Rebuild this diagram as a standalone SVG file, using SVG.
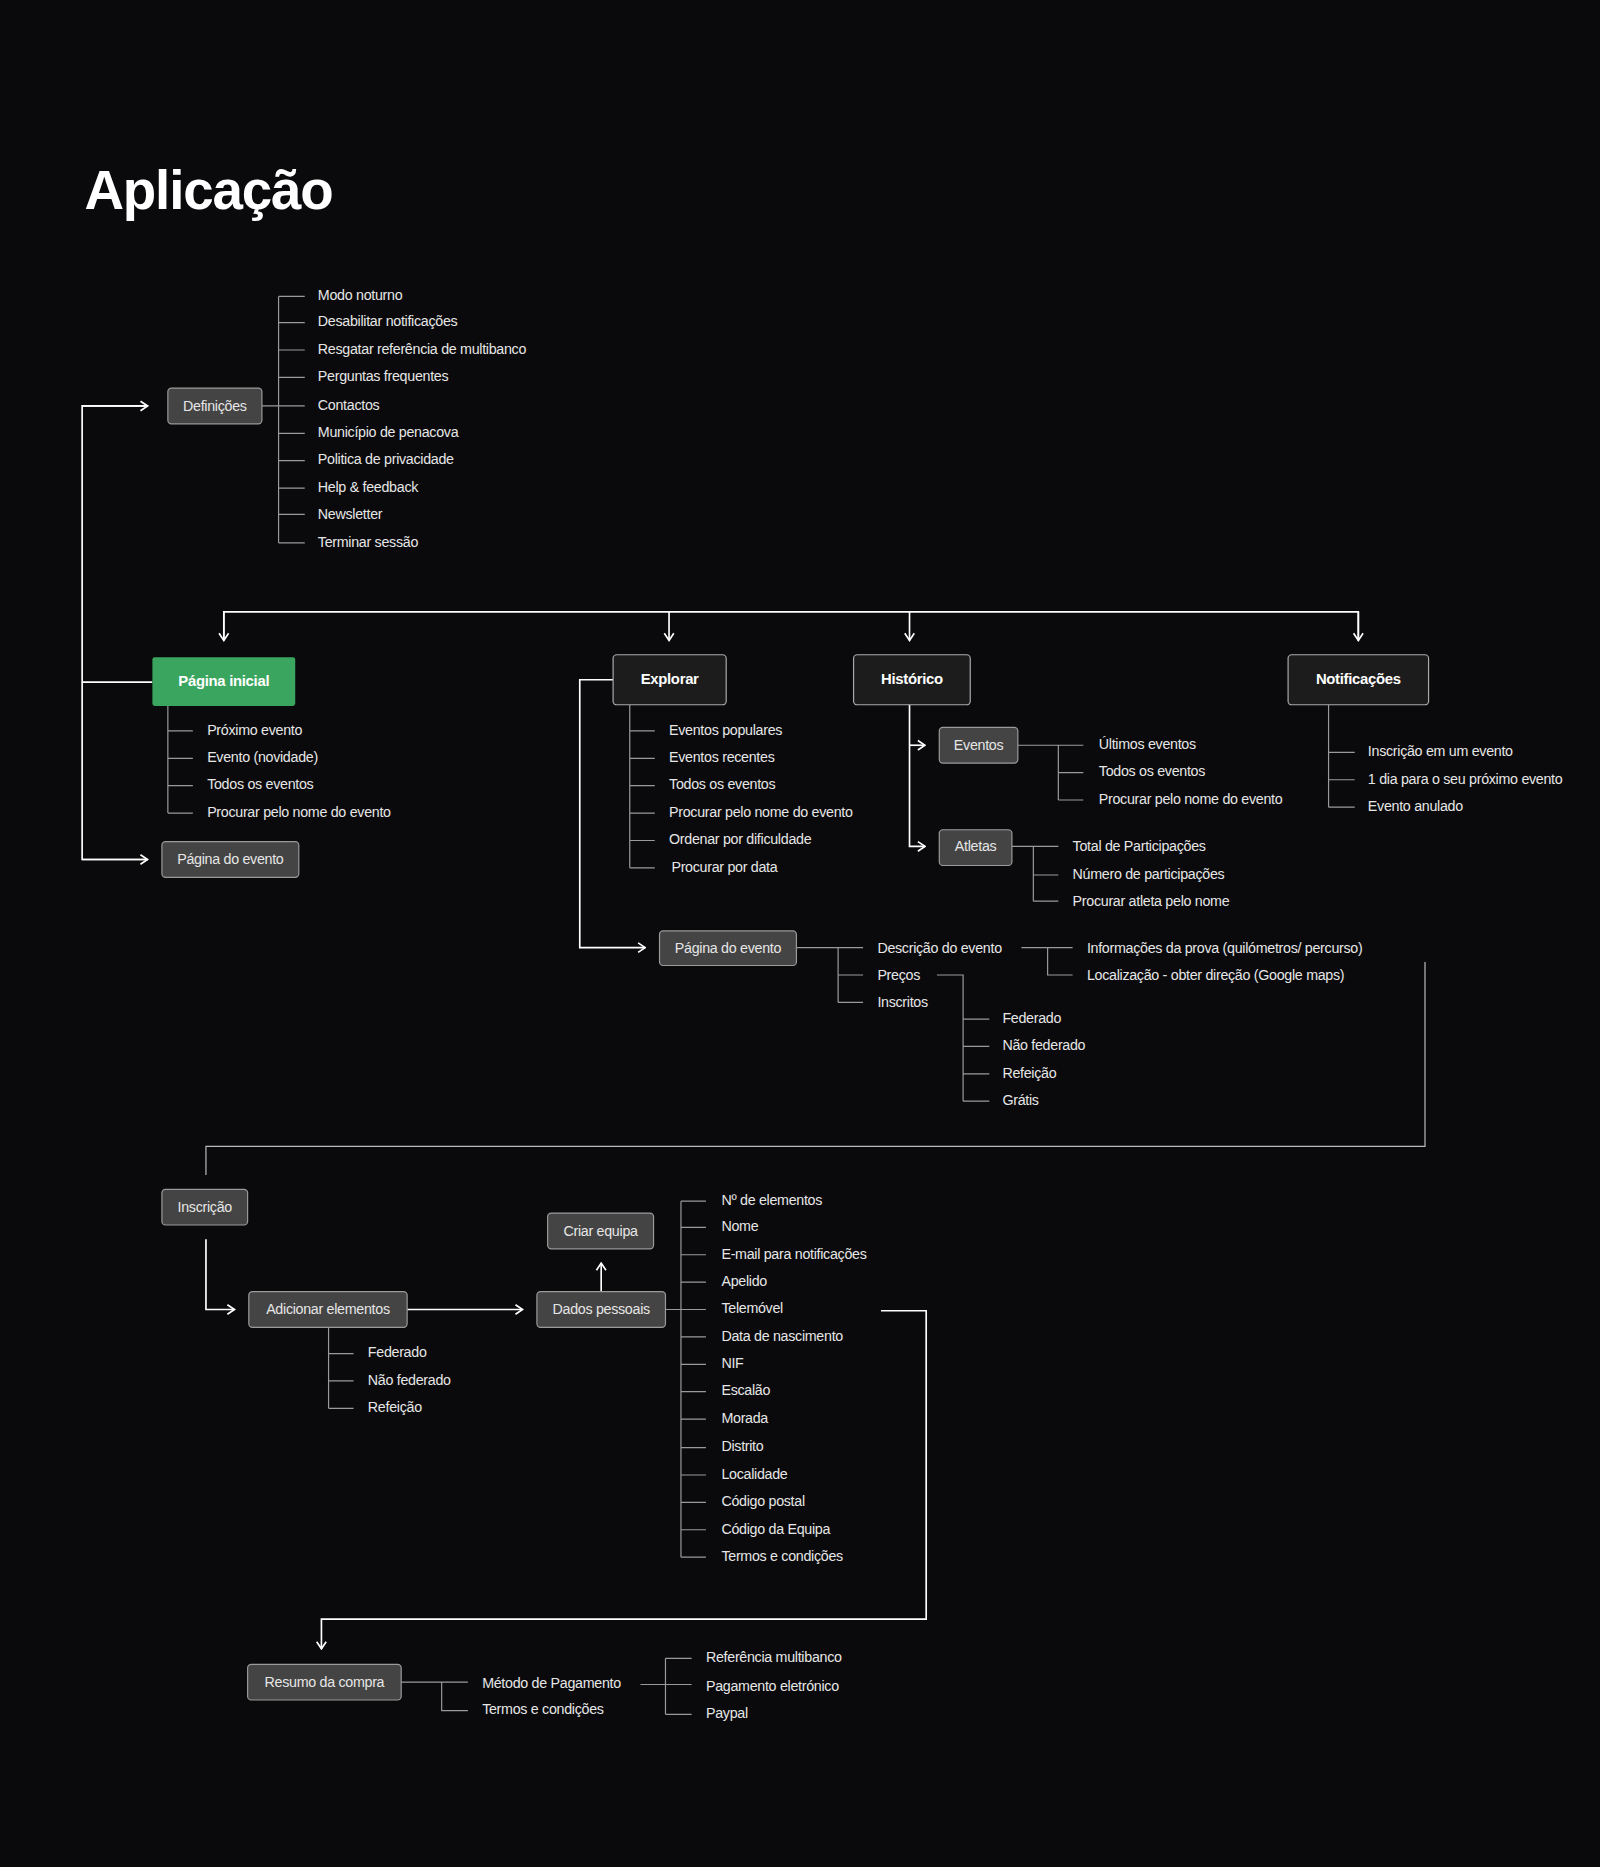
<svg xmlns="http://www.w3.org/2000/svg" width="1600" height="1867" viewBox="0 0 1600 1867">
<defs>
<marker id="ar" viewBox="0 0 10 10" refX="9" refY="5" markerWidth="10" markerHeight="10" markerUnits="userSpaceOnUse" orient="auto"><path d="M3 1 L9 5 L3 9" fill="none" stroke="#fff" stroke-width="1.4"/></marker>
</defs>
<style>
text{font-family:"Liberation Sans",Arial,sans-serif;font-size:12px;fill:#e6e6e6;letter-spacing:-0.25px;dominant-baseline:middle}
.c{text-anchor:middle}
.b{font-weight:bold;fill:#fff;font-size:12.5px}
.g{fill:#444;stroke:#9a9a9a;stroke-width:1}
.d{fill:#1c1c1c;stroke:#aaa;stroke-width:1}
.w{fill:none;stroke:#fff;stroke-width:1.4}
.t{fill:none;stroke:#9a9a9a;stroke-width:1}
.gl{fill:none;stroke:#bbb;stroke-width:1}
</style>
<rect width="1600" height="1867" fill="#0a0a0c"/>
<g transform="scale(1.190476)">
<text x="71" y="163" style="font-size:46px;font-weight:bold;fill:#fff;letter-spacing:-1px">Aplicação</text>
<g id="connectors">
<path class="w" d="M124 341H69V722H124" />
<path class="w" d="M69 341H124" marker-end="url(#ar)"/>
<path class="w" d="M69 722H124" marker-end="url(#ar)"/>
<path class="w" d="M69 573H128"/>
<path class="w" d="M188 538V514H1141V538"/>
<path class="w" d="M188 514V538" marker-end="url(#ar)"/>
<path class="w" d="M562 514V538" marker-end="url(#ar)"/>
<path class="w" d="M764 514V538" marker-end="url(#ar)"/>
<path class="w" d="M1141 514V538" marker-end="url(#ar)"/>
<path class="w" d="M515 571H487V796H542" marker-end="url(#ar)"/>
<path class="w" d="M764 592V711H777" marker-end="url(#ar)"/>
<path class="w" d="M764 626H777" marker-end="url(#ar)"/>
<path class="gl" d="M1197 808V963H173V987"/>
<path class="w" d="M173 1041V1100H197" marker-end="url(#ar)"/>
<path class="w" d="M342 1100H439" marker-end="url(#ar)"/>
<path class="w" d="M505 1085V1061" marker-end="url(#ar)"/>
<path class="w" d="M740 1101H778V1360H270V1385" marker-end="url(#ar)"/>
<path class="t" d="M220 341H256M234 249V456M234 249H256M234 271H256M234 294H256M234 317H256M234 364H256M234 387H256M234 410H256M234 432H256M234 456H256"/>
<path class="t" d="M141 593V683M141 614H162M141 637H162M141 660H162M141 683H162"/>
<path class="t" d="M529 592V729M529 614H550M529 637H550M529 660H550M529 683H550M529 706H550M529 729H550"/>
<path class="t" d="M855 626H910M889 626V672M889 649H910M889 672H910"/>
<path class="t" d="M850 711H889M868 711V757M868 735H889M868 757H889"/>
<path class="t" d="M1116 592V678M1116 632H1138M1116 655H1138M1116 678H1138"/>
<path class="t" d="M669 796H725M704 796V842M704 819H725M704 842H725"/>
<path class="t" d="M858 796H901M880 796V819H901"/>
<path class="t" d="M787 819H809V925M809 856H831M809 879H831M809 902H831M809 925H831"/>
<path class="t" d="M276 1115V1183M276 1137H297M276 1160H297M276 1183H297"/>
<path class="t" d="M559 1100H593M572 1009V1308M572 1009H593M572 1031H593M572 1054H593M572 1077H593M572 1123H593M572 1146H593M572 1169H593M572 1192H593M572 1216H593M572 1239H593M572 1262H593M572 1285H593M572 1308H593"/>
<path class="t" d="M337 1413H393M371 1413V1437H393"/>
<path class="t" d="M538 1415H581M559 1393V1440M559 1393H581M559 1440H581"/>
</g>
<g id="definicoes"><rect class="g" x="141" y="326" width="79" height="30" rx="3"/><text class="c" x="180.5" y="342">Definições</text>
<text x="267" y="249">Modo noturno</text><text x="267" y="271">Desabilitar notificações</text><text x="267" y="294">Resgatar referência de multibanco</text><text x="267" y="317">Perguntas frequentes</text><text x="267" y="341">Contactos</text><text x="267" y="364">Município de penacova</text><text x="267" y="387">Politica de privacidade</text><text x="267" y="410">Help &amp; feedback</text><text x="267" y="433">Newsletter</text><text x="267" y="456">Terminar sessão</text></g>
<g id="pagina-inicial"><rect x="128" y="552" width="120" height="41" rx="2" fill="#3aa55e"/><text class="c b" x="188" y="573">Página inicial</text>
<text x="174" y="614">Próximo evento</text><text x="174" y="637">Evento (novidade)</text><text x="174" y="660">Todos os eventos</text><text x="174" y="683">Procurar pelo nome do evento</text></g>
<g id="pagina-evento-1"><rect class="g" x="136" y="707" width="115" height="30" rx="3"/><text class="c" x="193.5" y="723">Página do evento</text></g>
<g id="explorar"><rect class="d" x="515" y="550" width="95" height="42" rx="3"/><text class="c b" x="562.5" y="571">Explorar</text>
<text x="562" y="614">Eventos populares</text><text x="562" y="637">Eventos recentes</text><text x="562" y="660">Todos os eventos</text><text x="562" y="683">Procurar pelo nome do evento</text><text x="562" y="706">Ordenar por dificuldade</text><text x="564" y="729">Procurar por data</text></g>
<g id="historico"><rect class="d" x="717" y="550" width="98" height="42" rx="3"/><text class="c b" x="766" y="571">Histórico</text></g>
<g id="eventos"><rect class="g" x="789" y="611" width="66" height="30" rx="3"/><text class="c" x="822" y="627">Eventos</text>
<text x="923" y="626">Últimos eventos</text><text x="923" y="649">Todos os eventos</text><text x="923" y="672">Procurar pelo nome do evento</text></g>
<g id="atletas"><rect class="g" x="789" y="697" width="61" height="30" rx="3"/><text class="c" x="819.5" y="712">Atletas</text>
<text x="901" y="712">Total de Participações</text><text x="901" y="735">Número de participações</text><text x="901" y="758">Procurar atleta pelo nome</text></g>
<g id="notificacoes"><rect class="d" x="1082" y="550" width="118" height="42" rx="3"/><text class="c b" x="1141" y="571">Notificações</text>
<text x="1149" y="632">Inscrição em um evento</text><text x="1149" y="655">1 dia para o seu próximo evento</text><text x="1149" y="678">Evento anulado</text></g>
<g id="pagina-evento-2"><rect class="g" x="554" y="782" width="115" height="29" rx="3"/><text class="c" x="611.5" y="797">Página do evento</text>
<text x="737" y="797">Descrição do evento</text><text x="737" y="820">Preços</text><text x="737" y="843">Inscritos</text>
<text x="913" y="797">Informações da prova (quilómetros/ percurso)</text><text x="913" y="820">Localização - obter direção (Google maps)</text>
<text x="842" y="856">Federado</text><text x="842" y="879">Não federado</text><text x="842" y="902">Refeição</text><text x="842" y="925">Grátis</text></g>
<g id="inscricao"><rect class="g" x="136" y="999" width="72" height="30" rx="3"/><text class="c" x="172" y="1015">Inscrição</text></g>
<g id="adicionar"><rect class="g" x="209" y="1085" width="133" height="30" rx="3"/><text class="c" x="275.5" y="1101">Adicionar elementos</text>
<text x="309" y="1137">Federado</text><text x="309" y="1160">Não federado</text><text x="309" y="1183">Refeição</text></g>
<g id="criar-equipa"><rect class="g" x="460" y="1019" width="89" height="30" rx="3"/><text class="c" x="504.5" y="1035">Criar equipa</text></g>
<g id="dados"><rect class="g" x="451" y="1085" width="108" height="30" rx="3"/><text class="c" x="505" y="1101">Dados pessoais</text>
<text x="606" y="1009">Nº de elementos</text><text x="606" y="1031">Nome</text><text x="606" y="1054">E-mail para notificações</text><text x="606" y="1077">Apelido</text><text x="606" y="1100">Telemóvel</text><text x="606" y="1123">Data de nascimento</text><text x="606" y="1146">NIF</text><text x="606" y="1169">Escalão</text><text x="606" y="1192">Morada</text><text x="606" y="1216">Distrito</text><text x="606" y="1239">Localidade</text><text x="606" y="1262">Código postal</text><text x="606" y="1285">Código da Equipa</text><text x="606" y="1308">Termos e condições</text></g>
<g id="resumo"><rect class="g" x="208" y="1398" width="129" height="30" rx="3"/><text class="c" x="272.5" y="1414">Resumo da compra</text>
<text x="405" y="1415">Método de Pagamento</text><text x="405" y="1437">Termos e condições</text>
<text x="593" y="1393">Referência multibanco</text><text x="593" y="1417">Pagamento eletrónico</text><text x="593" y="1440">Paypal</text></g>
</g>
</svg>
